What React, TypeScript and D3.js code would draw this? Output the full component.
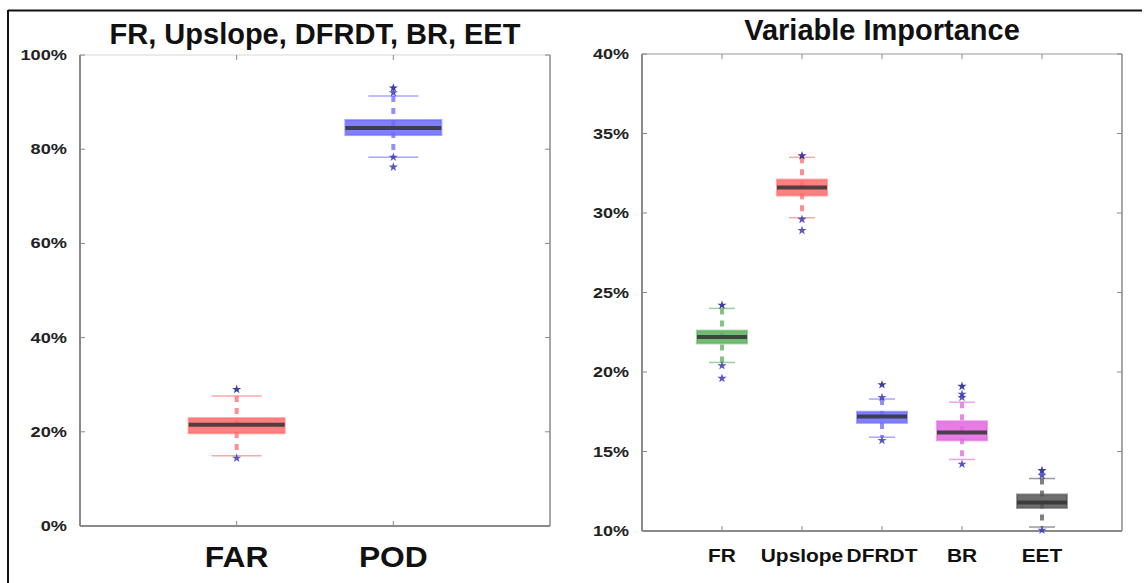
import React from 'react';
import * as d3 from 'd3';

// left panel: FAR / POD (fractions)
const leftCats = ['FAR', 'POD'];
const leftTicks = [0, 0.2, 0.4, 0.6, 0.8, 1.0];
const leftQ1 = [0.197, 0.830];
const leftMed = [0.215, 0.845];
const leftQ3 = [0.229, 0.862];
const leftLo = [0.149, 0.783];
const leftHi = [0.276, 0.913];
const leftOut = [[0.29, 0.144], [0.93, 0.92, 0.783, 0.762]];
const leftColors = ['#ff6a6a', '#6a6aff'];

// right panel: variable importance (fractions)
const rightCats = ['FR', 'Upslope', 'DFRDT', 'BR', 'EET'];
const rightTicks = [0.10, 0.15, 0.20, 0.25, 0.30, 0.35, 0.40];
const rightQ1 = [0.218, 0.311, 0.168, 0.157, 0.1145];
const rightMed = [0.222, 0.316, 0.172, 0.162, 0.118];
const rightQ3 = [0.226, 0.321, 0.175, 0.169, 0.123];
const rightLo = [0.206, 0.297, 0.159, 0.145, 0.1025];
const rightHi = [0.240, 0.335, 0.183, 0.181, 0.133];
const rightOut = [
  [0.242, 0.204, 0.196],
  [0.336, 0.296, 0.289],
  [0.192, 0.184, 0.157],
  [0.191, 0.186, 0.184, 0.142],
  [0.138, 0.135, 0.1005],
];
const rightColors = ['#5cb05c', '#ff6a6a', '#6a6aff', '#e066e0', '#555555'];

const fmt = (v: number) => `${Math.round(v * 100)}%`;
const star = d3.symbol().type(d3.symbolStar).size(26)();
const FONT = 'Liberation Sans, Arial, sans-serif';

type Panel = {
  cats: string[]; ticks: number[]; q1: number[]; med: number[]; q3: number[];
  lo: number[]; hi: number[]; out: number[][]; colors: string[];
  x0: number; x1: number; y0: number; y1: number; domain: [number, number];
  title: string; titleY: number; catSize: number; catStretch: number; catY: number;
  tickSize: number; tickStretch: number; boxHalf: number; capHalf: number; topColor: string;
};

function BoxPanel(p: Panel) {
  const x = d3.scalePoint<string>().domain(['', ...p.cats, ' ']).range([p.x0, p.x1]);
  const y = d3.scaleLinear().domain(p.domain).range([p.y1, p.y0]);
  const axisColor = '#8a8a8a';
  return (
    <g>
      <text x={(p.x0 + p.x1) / 2} y={p.titleY} textAnchor="middle" fontFamily={FONT}
        fontWeight="bold" fontSize={29} fill="#111">{p.title}</text>
      <line x1={p.x0} x2={p.x1} y1={p.y0} y2={p.y0} stroke={p.topColor} strokeWidth={1.5} />
      <line x1={p.x1} x2={p.x1} y1={p.y0} y2={p.y1} stroke={axisColor} strokeWidth={1.5} />
      <line x1={p.x0} x2={p.x0} y1={p.y0} y2={p.y1} stroke={axisColor} strokeWidth={2} />
      <line x1={p.x0} x2={p.x1} y1={p.y1} y2={p.y1} stroke={axisColor} strokeWidth={2} />
      {p.ticks.map((t) => (
        <g key={t}>
          <line x1={p.x0} x2={p.x0 + 5} y1={y(t)} y2={y(t)} stroke={axisColor} />
          <line x1={p.x1} x2={p.x1 - 5} y1={y(t)} y2={y(t)} stroke={axisColor} />
          <g transform={`translate(${p.x0 - 13},${y(t) + 5}) scale(${p.tickStretch},1)`}>
            <text textAnchor="end" fontFamily={FONT} fontWeight="bold" fontSize={p.tickSize} fill="#222">{fmt(t)}</text>
          </g>
        </g>
      ))}
      {p.cats.map((c) => (
        <g key={c}>
          <line x1={x(c)} x2={x(c)} y1={p.y0} y2={p.y0 + 5} stroke={axisColor} />
          <line x1={x(c)} x2={x(c)} y1={p.y1} y2={p.y1 - 5} stroke={axisColor} />
          <g transform={`translate(${x(c)},${p.catY}) scale(${p.catStretch},1)`}>
            <text textAnchor="middle" fontFamily={FONT} fontWeight="bold" fontSize={p.catSize} fill="#111">{c}</text>
          </g>
        </g>
      ))}
      {p.cats.map((c, i) => {
        const cx = x(c) as number;
        const col = p.colors[i];
        return (
          <g key={'b' + c}>
            <line x1={cx} x2={cx} y1={y(p.hi[i])} y2={y(p.lo[i])} stroke={col} strokeOpacity={0.75} strokeWidth={4} strokeDasharray="6,6" />
            <line x1={cx - p.capHalf} x2={cx + p.capHalf} y1={y(p.hi[i])} y2={y(p.hi[i])} stroke={col} strokeOpacity={0.6} strokeWidth={1.5} />
            <line x1={cx - p.capHalf} x2={cx + p.capHalf} y1={y(p.lo[i])} y2={y(p.lo[i])} stroke={col} strokeOpacity={0.6} strokeWidth={1.5} />
            <rect x={cx - p.boxHalf} width={p.boxHalf * 2} y={y(p.q3[i])} height={y(p.q1[i]) - y(p.q3[i])}
              fill={col} fillOpacity={0.85} stroke={col} strokeOpacity={0.6} strokeWidth={2} />
            <line x1={cx - p.boxHalf} x2={cx + p.boxHalf} y1={y(p.med[i])} y2={y(p.med[i])} stroke="#333" strokeOpacity={0.85} strokeWidth={4} />
            {p.out[i].map((v, j) => (
              <path key={j} d={star as string} transform={`translate(${cx},${y(v)})`} fill={j === 0 ? '#1a1a90' : '#3a3ab8'} fillOpacity={0.85} />
            ))}
          </g>
        );
      })}
    </g>
  );
}

export default function App() {
  return (
    <svg width={1144} height={583} style={{ position: 'absolute', left: 0, top: 0, background: '#fff' }}>
      <rect x={0} y={0} width={1144} height={583} fill="#fff" />
      <line x1={8} x2={8} y1={10} y2={583} stroke="#111" strokeWidth={2} />
      <line x1={8} x2={1142} y1={10.5} y2={10.5} stroke="#111" strokeWidth={2} />
      <BoxPanel cats={leftCats} ticks={leftTicks} q1={leftQ1} med={leftMed} q3={leftQ3} lo={leftLo} hi={leftHi}
        out={leftOut} colors={leftColors} x0={80} x1={550} y0={55} y1={526} domain={[0, 1]}
        title="FR, Upslope, DFRDT, BR, EET" titleY={44} catSize={30} catStretch={1.06} catY={567}
        tickSize={14} tickStretch={1.3} boxHalf={48} capHalf={25} topColor="#e4e4e4" />
      <BoxPanel cats={rightCats} ticks={rightTicks} q1={rightQ1} med={rightMed} q3={rightQ3} lo={rightLo} hi={rightHi}
        out={rightOut} colors={rightColors} x0={642} x1={1122} y0={54} y1={531} domain={[0.1, 0.4]}
        title="Variable Importance" titleY={40} catSize={19} catStretch={1.1} catY={562}
        tickSize={15} tickStretch={1.2} boxHalf={25} capHalf={13} topColor="#bbbbbb" />
    </svg>
  );
}
